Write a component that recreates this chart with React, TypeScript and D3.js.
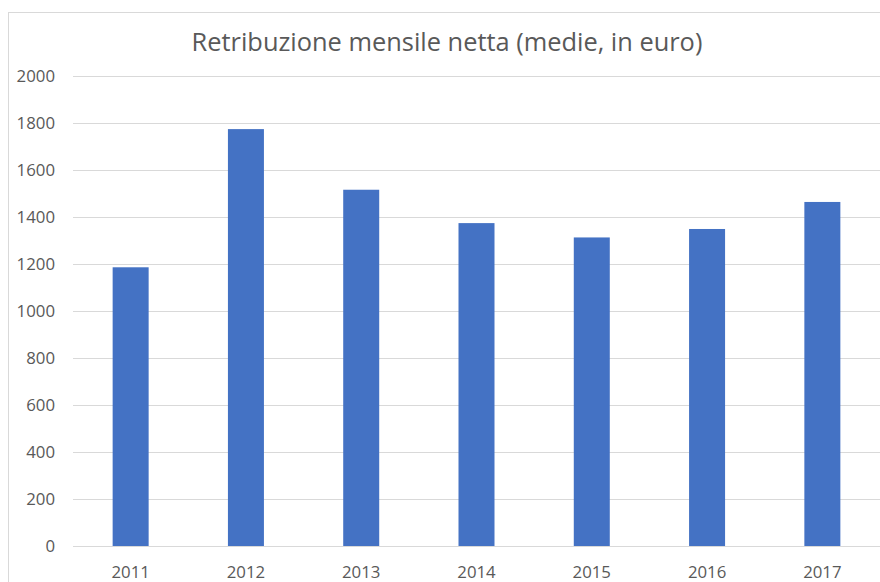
import React from "react";
import * as d3 from "d3";

const categories = ["2011", "2012", "2013", "2014", "2015", "2016", "2017"];
const values = [1186, 1774, 1516, 1374, 1313, 1349, 1464];
const yTicks = [0, 200, 400, 600, 800, 1000, 1200, 1400, 1600, 1800, 2000];
const title = "Retribuzione mensile netta (medie, in euro)";

export default function App() {
  const W = 880, H = 582;
  const left = 73, right = 880, top = 76, bottom = 546;
  const x = d3.scaleBand<string>().domain(categories).range([left, right]).paddingInner(0).paddingOuter(0);
  const y = d3.scaleLinear().domain([0, 2000]).range([bottom, top]);
  const bw = 36;
  const font = "'Open Sans', sans-serif";
  return (
    <svg width={W} height={H} style={{ position: "absolute", left: 0, top: 0 }}>
      <rect x={0} y={0} width={W} height={H} fill="#fff" />
      <rect x={8.5} y={12.5} width={900} height={600} fill="none" stroke="#d9d9d9" />
      <text x={447} y={51} textAnchor="middle" fontFamily={font} fontSize={25.4} fill="#595959">{title}</text>
      {yTicks.map(t => (
        <g key={t}>
          <line x1={left} x2={right} y1={Math.round(y(t)) + 0.5} y2={Math.round(y(t)) + 0.5} stroke="#d9d9d9" strokeWidth={1} />
          <text x={55} y={y(t) + 6} textAnchor="end" fontFamily={font} fontSize={16.8} fill="#595959">{t}</text>
        </g>
      ))}
      {categories.map((c, i) => {
        const cx = (x(c) as number) + x.bandwidth() / 2;
        return (
          <g key={c}>
            <rect x={cx - bw / 2} y={y(values[i])} width={bw} height={bottom - y(values[i])} fill="#4472c4" />
            <text x={cx} y={578} textAnchor="middle" fontFamily={font} fontSize={16.8} fill="#595959">{c}</text>
          </g>
        );
      })}
    </svg>
  );
}
